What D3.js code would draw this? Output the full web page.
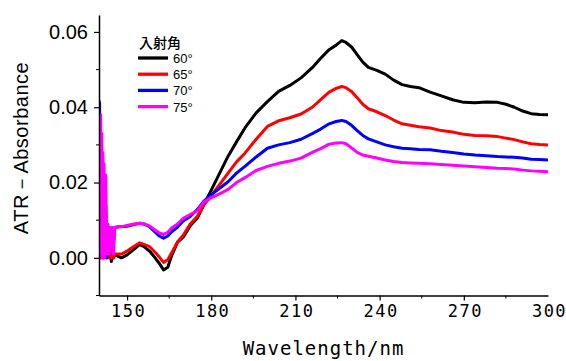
<!DOCTYPE html>
<html>
<head>
<meta charset="utf-8">
<script src="https://cdn.jsdelivr.net/npm/d3@7"></script>
<style>
  body { margin: 0; background: #fff; }
  svg { display: block; }
</style>
</head>
<body>
<div id="chart"></div>
<script>
// wavelength grid (nm), shared by all four spectra
const wavelengths = [
  140, 140.2, 140.4, 140.6, 140.8, 141.0, 141.2, 141.4, 141.6, 141.8,
  142.0, 142.4, 142.8, 143.2, 143.6, 144.0, 144.4, 144.8, 145.2, 145.6,
  146.5, 148, 150, 152, 154.5, 156, 158, 160, 161.5, 163,
  164.5, 166, 168, 170, 172.5, 175, 177.3, 180, 183, 186,
  189, 192, 196, 200, 204, 208, 212, 216, 219, 222,
  224.5, 226.5, 228, 230, 232, 234, 236, 239, 242, 245,
  248, 251, 254, 258, 262, 266, 270, 274, 278, 282,
  285, 288, 291, 294, 297, 300
];

const abs60 = [
  0.000, 0.004, 0.000, 0.006, 0.000, 0.003, 0.000, 0.005, 0.000, 0.008,
  0.001, 0.014, 0.000, 0.006, 0.000, 0.002, -0.001, 0.001, 0.000, 0.001,
  0.0005, 0.0000, 0.0008, 0.0020, 0.0035, 0.0030, 0.0018, 0.0000, -0.0015, -0.0032,
  -0.0025, 0.0008, 0.0042, 0.0055, 0.0085, 0.0105, 0.0140, 0.0180, 0.0225, 0.0270,
  0.0308, 0.0345, 0.0385, 0.0415, 0.0442, 0.0458, 0.0478, 0.0505, 0.0530, 0.0553,
  0.0565, 0.0577, 0.0572, 0.0560, 0.0540, 0.0520, 0.0506, 0.0498, 0.0488, 0.0472,
  0.0460, 0.0455, 0.0452, 0.0440, 0.0430, 0.0420, 0.0413, 0.0412, 0.0414, 0.0413,
  0.0408, 0.0400, 0.0390, 0.0383, 0.0381, 0.0380
];

const abs65 = [
  0.000, 0.0415, 0.000, 0.012, 0.000, 0.006, 0.000, 0.004, 0.000, 0.003,
  0.000, 0.004, 0.000, 0.004, 0.000, 0.003, 0.000, 0.002, 0.000, 0.001,
  0.0010, 0.0010, 0.0018, 0.0028, 0.0040, 0.0036, 0.0030, 0.0015, 0.0002, -0.0012,
  -0.0005, 0.0015, 0.0042, 0.0060, 0.0090, 0.0110, 0.0140, 0.0165, 0.0195, 0.0225,
  0.0255, 0.0278, 0.0315, 0.0349, 0.0364, 0.0372, 0.0382, 0.0400, 0.0420, 0.0440,
  0.0450, 0.0455, 0.0452, 0.0442, 0.0425, 0.0408, 0.0396, 0.0388, 0.0378, 0.0366,
  0.0356, 0.0352, 0.0348, 0.0345, 0.0338, 0.0334, 0.0328, 0.0325, 0.0324, 0.0322,
  0.0318, 0.0314, 0.0308, 0.0303, 0.0301, 0.0300
];

const abs70 = [
  0.000, 0.041, 0.002, 0.030, 0.001, 0.015, 0.001, 0.010, 0.000, 0.012,
  0.001, 0.009, 0.000, 0.008, 0.001, 0.008, 0.002, 0.008, 0.004, 0.008,
  0.0082, 0.0083, 0.0084, 0.0088, 0.0092, 0.0090, 0.0083, 0.0068, 0.0058, 0.0052,
  0.0058, 0.0070, 0.0082, 0.0098, 0.0110, 0.0128, 0.0150, 0.0168, 0.0185, 0.0202,
  0.0225, 0.0243, 0.0268, 0.0291, 0.0300, 0.0306, 0.0315, 0.0330, 0.0342, 0.0356,
  0.0362, 0.0365, 0.0362, 0.0352, 0.0338, 0.0325, 0.0316, 0.0308, 0.0300, 0.0295,
  0.0291, 0.0290, 0.0288, 0.0287, 0.0283, 0.0280, 0.0276, 0.0273, 0.0271, 0.0269,
  0.0268, 0.0267, 0.0265, 0.0262, 0.0261, 0.0260
];

const abs75 = [
  0.000, 0.036, 0.001, 0.038, 0.002, 0.033, 0.000, 0.028, 0.001, 0.025,
  0.000, 0.022, 0.001, 0.009, 0.001, 0.008, 0.002, 0.008, 0.001, 0.008,
  0.0082, 0.0083, 0.0086, 0.0089, 0.0092, 0.0090, 0.0085, 0.0074, 0.0066, 0.0062,
  0.0068, 0.0080, 0.0090, 0.0105, 0.0115, 0.0125, 0.0148, 0.0160, 0.0170, 0.0182,
  0.0200, 0.0213, 0.0232, 0.0243, 0.0251, 0.0257, 0.0265, 0.0280, 0.0290, 0.0302,
  0.0305, 0.0306, 0.0303, 0.0292, 0.0280, 0.0273, 0.0270, 0.0265, 0.0260, 0.0256,
  0.0253, 0.0252, 0.0251, 0.0250, 0.0248, 0.0246, 0.0244, 0.0242, 0.0240, 0.0238,
  0.0237, 0.0236, 0.0233, 0.0231, 0.0230, 0.0229
];

const angles = ['60°', '65°', '70°', '75°'];
const colors = ['#000000', '#ff0000', '#0000ff', '#ff00ff'];
const seriesValues = [abs60, abs65, abs70, abs75];

const xTicks = [150, 180, 210, 240, 270, 300];
const xMinor = [165, 195, 225, 255, 285];
const yTicks = [0, 0.02, 0.04, 0.06];
const yMinor = [-0.01, 0.01, 0.03, 0.05];

const width = 566;
const height = 361;
const margin = {top: 15, right: 18, bottom: 65.5, left: 99};

const svg = d3.select('#chart').append('svg')
  .attr('width', width)
  .attr('height', height);

const x = d3.scaleLinear().domain([140, 300]).range([margin.left, width - margin.right]);
const y = d3.scaleLinear().domain([-0.01, 0.0645]).range([height - margin.bottom, margin.top]);

svg.append('clipPath').attr('id', 'plot-clip')
  .append('rect')
  .attr('x', margin.left)
  .attr('y', margin.top)
  .attr('width', width - margin.left - margin.right)
  .attr('height', height - margin.top - margin.bottom);

// spectra
const line = d3.line()
  .x((d) => x(d[0]))
  .y((d) => y(d[1]));

svg.append('g').attr('clip-path', 'url(#plot-clip)')
  .selectAll('path')
  .data(seriesValues)
  .join('path')
  .attr('d', (vals) => line(wavelengths.map((w, i) => [w, vals[i]])))
  .attr('fill', 'none')
  .attr('stroke', (d, i) => colors[i])
  .attr('stroke-width', 3)
  .attr('stroke-linejoin', 'round');

// axes
const xAxis = svg.append('g')
  .attr('transform', `translate(0,${height - margin.bottom})`)
  .call(d3.axisBottom(x).tickValues(xTicks).tickSize(5).tickSizeOuter(0).tickFormat(d3.format('d')));

xAxis.selectAll('.tick')
  .filter((d) => d === 300)
  .select('line').remove();

xAxis.selectAll('text')
  .attr('dy', '0.71em')
  .attr('y', 9)
  .attr('dx', 1)
  .style('font-family', '"DejaVu Sans Mono", monospace')
  .style('font-size', '17px')
  .style('letter-spacing', '1.5px')
  .attr('fill', '#000');

xAxis.selectAll('.minor')
  .data(xMinor)
  .join('line')
  .attr('class', 'minor')
  .attr('x1', (d) => x(d)).attr('x2', (d) => x(d))
  .attr('y1', 0).attr('y2', 3)
  .attr('stroke', '#000');

const yAxis = svg.append('g')
  .attr('transform', `translate(${margin.left},0)`)
  .call(d3.axisLeft(y).tickValues(yTicks).tickSize(5).tickSizeOuter(0).tickFormat(d3.format('.2f')));

yAxis.selectAll('text')
  .attr('x', -11)
  .style('font-family', '"Liberation Sans", Arial, sans-serif')
  .style('font-size', '20px')
  .attr('fill', '#000');

yAxis.selectAll('.minor')
  .data(yMinor)
  .join('line')
  .attr('class', 'minor')
  .attr('y1', (d) => y(d)).attr('y2', (d) => y(d))
  .attr('x1', 0).attr('x2', -3)
  .attr('stroke', '#000');

svg.selectAll('.domain').attr('stroke', '#000').attr('stroke-width', 1.5);
svg.selectAll('.tick line').attr('stroke', '#000').attr('stroke-width', 1.2);

// axis titles
svg.append('text')
  .attr('x', (margin.left + width - margin.right) / 2)
  .attr('y', 355)
  .attr('text-anchor', 'middle')
  .style('font-family', '"DejaVu Sans Mono", monospace')
  .style('font-size', '19px')
  .style('letter-spacing', '1px')
  .text('Wavelength/nm');

svg.append('text')
  .attr('transform', 'translate(28,148) rotate(-90)')
  .attr('text-anchor', 'middle')
  .style('font-family', '"Liberation Sans", Arial, sans-serif')
  .style('font-size', '20px')
  .style('letter-spacing', '0.5px')
  .text('ATR－Absorbance');

// legend
const legend = svg.append('g').attr('transform', 'translate(138,0)');

legend.append('text')
  .attr('x', 1)
  .attr('y', 48)
  .style('font-family', '"Noto Sans CJK JP", sans-serif')
  .style('font-size', '14px')
  .style('font-weight', 500)
  .text('入射角');

const rows = legend.selectAll('.row')
  .data(angles)
  .join('g')
  .attr('class', 'row')
  .attr('transform', (d, i) => `translate(0,${58 + i * 16.2})`);

rows.append('line')
  .attr('x1', 0).attr('x2', 30)
  .attr('stroke', (d, i) => colors[i])
  .attr('stroke-width', 3.3);

rows.append('text')
  .attr('x', 35)
  .attr('y', 5)
  .style('font-family', '"Liberation Sans", Arial, sans-serif')
  .style('font-size', '13px')
  .text((d) => d);
</script>
</body>
</html>
